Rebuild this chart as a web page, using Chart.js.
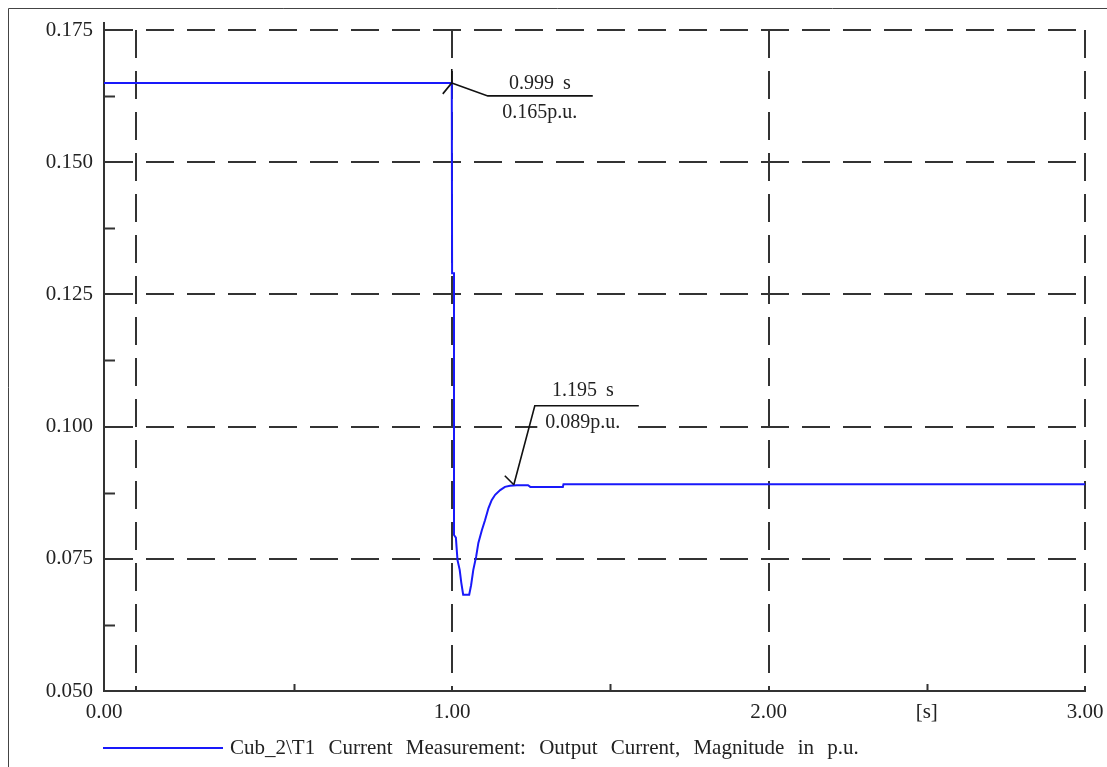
<!DOCTYPE html>
<html>
<head>
<meta charset="utf-8">
<script src="https://cdn.jsdelivr.net/npm/chart.js@4.4.1/dist/chart.umd.min.js"></script>
<style>
  html, body { margin: 0; padding: 0; background: #fff; }
  #wrap { width: 1107px; height: 767px; position: relative; }
</style>
</head>
<body>
<div id="wrap"><canvas id="currentChart"></canvas></div>
<script>
// Simulation trace (time in s, current in p.u.)
const timeValues = [-0.1, 0.999, 1.000, 1.006, 1.006, 1.012, 1.017, 1.024, 1.029, 1.035, 1.054,
  1.060, 1.067, 1.076, 1.083, 1.094, 1.104, 1.115, 1.125, 1.136, 1.152, 1.167, 1.183,
  1.204, 1.240, 1.247, 1.350, 1.352, 3.000];
const currentValues = [0.165, 0.165, 0.129, 0.129, 0.0795, 0.0790, 0.0748, 0.0729, 0.0705, 0.0682, 0.0682,
  0.0700, 0.0729, 0.0754, 0.0780, 0.0804, 0.0823, 0.0846, 0.0861, 0.0871, 0.0880, 0.0886, 0.0888,
  0.0889, 0.0889, 0.0886, 0.0886, 0.0891, 0.0891];

// Axis ticks
const yTickValues = [0.050, 0.075, 0.100, 0.125, 0.150, 0.175];
const yMinorTicks = [0.0625, 0.0875, 0.1125, 0.1375, 0.1625];
const xTickValues = [-0.1, 0, 0.5, 1, 1.5, 2, 2.5, 3];
const xTickLabels = ['0.00', '', '', '1.00', '', '2.00', '[s]', '3.00'];
const xGridValues = [0, 1, 2, 3];
const xMinorTicks = [0.5, 1.5, 2.5];

// Cursor labels
const markerTimes = [0.999, 1.195];
const markerValues = [0.165, 0.089];
const markerTimeLabels = ['0.999 s', '1.195 s'];
const markerValueLabels = ['0.165p.u.', '0.089p.u.'];

const seriesLabel = 'Cub_2\\T1 Current Measurement: Output Current, Magnitude in p.u.';
const lineBlue = 'rgb(25, 25, 250)';
const axisGray = '#333';
const serif = "'Liberation Serif', 'DejaVu Serif', serif";

// extra drawing: frame, minor ticks, cursor callouts, legend
const extrasPlugin = {
  id: 'extras',
  afterDraw(chart) {
    const ctx = chart.ctx;
    const area = chart.chartArea;
    const xs = chart.scales.x;
    const ys = chart.scales.y;
    ctx.save();

    // outer frame (top + left)
    ctx.strokeStyle = '#444';
    ctx.lineWidth = 1;
    ctx.beginPath();
    ctx.moveTo(8.5, chart.height);
    ctx.lineTo(8.5, 8.5);
    ctx.lineTo(chart.width, 8.5);
    ctx.stroke();

    // axis stub above top
    ctx.strokeStyle = axisGray;
    ctx.lineWidth = 2;
    ctx.beginPath();
    ctx.moveTo(area.left, area.top - 8);
    ctx.lineTo(area.left, area.top);
    ctx.stroke();

    // minor ticks
    yMinorTicks.forEach(v => {
      const y = Math.round(ys.getPixelForValue(v)) + 0.5;
      ctx.beginPath();
      ctx.moveTo(area.left, y);
      ctx.lineTo(area.left + 11, y);
      ctx.stroke();
    });
    xMinorTicks.forEach(v => {
      const x = Math.round(xs.getPixelForValue(v)) + 0.5;
      ctx.beginPath();
      ctx.moveTo(x, area.bottom);
      ctx.lineTo(x, area.bottom - 7);
      ctx.stroke();
    });

    // cursor callouts
    ctx.font = '20px ' + serif;
    ctx.textAlign = 'center';
    ctx.textBaseline = 'middle';
    ctx.wordSpacing = '4px';
    markerTimes.forEach((t, i) => {
      const px = xs.getPixelForValue(t);
      const py = ys.getPixelForValue(markerValues[i]);
      let kx, ky, endX, tx;
      ctx.strokeStyle = '#111';
      ctx.lineWidth = 1.6;
      if (i === 0) {
        kx = px + 36; ky = py + 13; endX = px + 141; tx = px + 88;
        ctx.beginPath();
        ctx.moveTo(px, py - 14); ctx.lineTo(px, py);
        ctx.moveTo(px, py); ctx.lineTo(px - 9, py + 11);
        ctx.stroke();
      } else {
        kx = px + 21; ky = py - 79; endX = px + 125; tx = px + 69;
        ctx.beginPath();
        ctx.moveTo(px, py); ctx.lineTo(px - 9, py - 9);
        ctx.stroke();
      }
      // white boxes behind the texts
      const timeY = ky - (i === 0 ? 12 : 15);
      const valY = ky + 17;
      ctx.fillStyle = '#fff';
      const wT = ctx.measureText(markerTimeLabels[i]).width + 12;
      const wV = ctx.measureText(markerValueLabels[i]).width + 16;
      ctx.fillRect(tx - wT / 2, timeY - 11, wT, 22);
      ctx.fillRect(tx - wV / 2, valY - 12, wV, 24);

      ctx.beginPath();
      ctx.moveTo(px, py);
      ctx.lineTo(kx, ky);
      ctx.lineTo(endX, ky);
      ctx.stroke();
      ctx.fillStyle = '#222';
      ctx.fillText(markerTimeLabels[i], tx, timeY);
      ctx.fillText(markerValueLabels[i], tx, valY);
    });

    // legend
    const ly = 748;
    ctx.strokeStyle = lineBlue;
    ctx.lineWidth = 2;
    ctx.beginPath();
    ctx.moveTo(area.left - 1, ly);
    ctx.lineTo(area.left + 119, ly);
    ctx.stroke();
    ctx.fillStyle = '#222';
    ctx.font = '21px ' + serif;
    ctx.textAlign = 'left';
    ctx.wordSpacing = '8px';
    ctx.fillText(chart.data.datasets[0].label, area.left + 126, ly);
    ctx.restore();
  }
};

const chartData = timeValues.map((t, i) => ({ x: t, y: currentValues[i] }));

new Chart(document.getElementById('currentChart'), {
  type: 'line',
  data: {
    datasets: [{
      label: seriesLabel,
      data: chartData,
      borderColor: lineBlue,
      borderWidth: 2,
      pointRadius: 0,
      tension: 0,
      fill: false
    }]
  },
  options: {
    responsive: true,
    maintainAspectRatio: false,
    animation: false,
    layout: { padding: { top: 30, right: 22, left: 0, bottom: 0 } },
    plugins: {
      legend: { display: false },
      tooltip: { enabled: false }
    },
    scales: {
      x: {
        type: 'linear',
        min: -0.1,
        max: 3,
        afterBuildTicks: (s) => { s.ticks = xTickValues.map(v => ({ value: v })); },
        afterFit: (s) => { s.height = 76; s.paddingLeft = 0; s.paddingRight = 0; },
        ticks: {
          autoSkip: false,
          maxRotation: 0,
          padding: 9,
          color: '#222',
          font: { family: serif, size: 21 },
          callback: (v, i) => xTickLabels[i]
        },
        grid: {
          drawTicks: false,
          lineWidth: 2,
          color: (c) => (c.tick && xGridValues.includes(c.tick.value)) ? axisGray : 'rgba(0,0,0,0)'
        },
        border: { display: true, color: axisGray, width: 2, dash: [28, 13] }
      },
      y: {
        min: 0.05,
        max: 0.175,
        afterBuildTicks: (s) => { s.ticks = yTickValues.map(v => ({ value: v })); },
        afterFit: (s) => { s.width = 104; s.paddingTop = 0; s.paddingBottom = 0; },
        ticks: {
          padding: 11,
          color: '#222',
          font: { family: serif, size: 21 },
          callback: (v) => Number(v).toFixed(3)
        },
        grid: { drawTicks: false, lineWidth: 2, color: axisGray },
        border: { display: true, color: axisGray, width: 2, dash: [28, 13] }
      }
    }
  },
  plugins: [extrasPlugin]
});
</script>
</body>
</html>
